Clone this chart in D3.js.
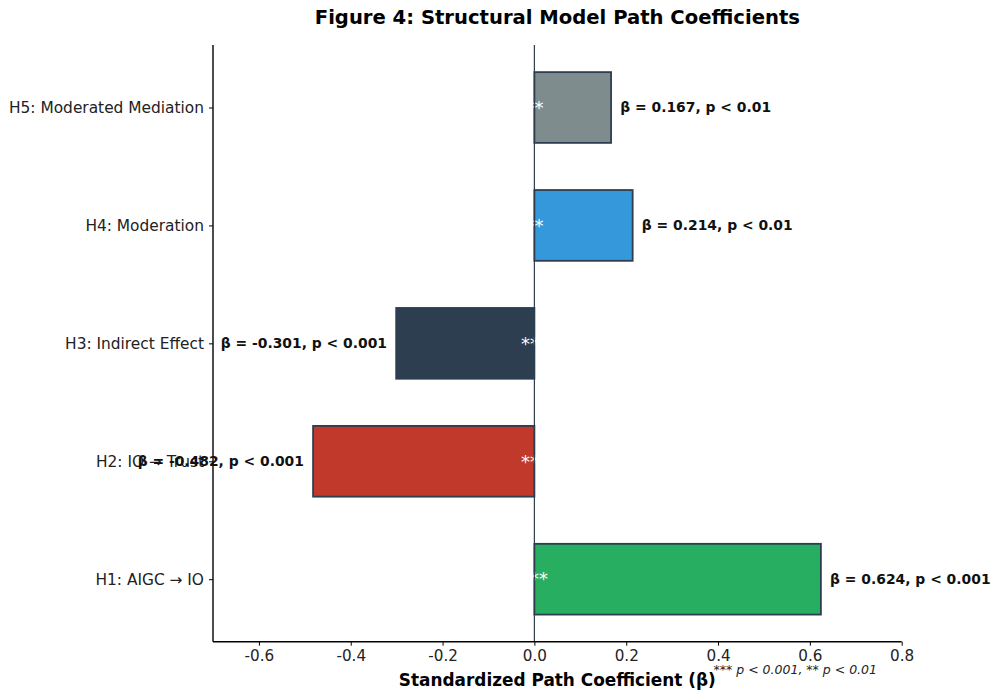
<!DOCTYPE html>
<html>
<head>
<meta charset="utf-8">
<script src="https://cdn.jsdelivr.net/npm/d3@7"></script>
<style>
  body { margin: 0; background: #fff; }
  svg { font-family: "DejaVu Sans", sans-serif; }
</style>
</head>
<body>
<svg id="chart" width="993" height="693"></svg>
<script>
// Structural model hypotheses, bottom to top
const hypotheses = ["H1: AIGC \u2192 IO", "H2: IO \u2192 Trust", "H3: Indirect Effect", "H4: Moderation", "H5: Moderated Mediation"];
const betas = [0.624, -0.482, -0.301, 0.214, 0.167];
const pLabels = ["p < 0.001", "p < 0.001", "p < 0.001", "p < 0.01", "p < 0.01"];
const stars = ["***", "***", "***", "**", "**"];
const barColors = ["#27ae60", "#c0392b", "#2c3e50", "#3498db", "#7f8c8d"];
const xTicks = [-0.6, -0.4, -0.2, 0.0, 0.2, 0.4, 0.6, 0.8];

const svg = d3.select("#chart");
const plotLeft = 213, plotRight = 901.7, plotTop = 45, plotBottom = 641.7;

const x = d3.scaleLinear().domain([-0.7, 0.8]).range([plotLeft, plotRight]);
const y = d3.scaleLinear().domain([-0.53, 4.53]).range([plotBottom, plotTop]);
const barH = Math.abs(y(0.3) - y(-0.3));
const ink = "#2c3e50";

const rows = hypotheses.map((h, i) => ({ h, b: betas[i], p: pLabels[i], s: stars[i], c: barColors[i], i }));

// Bars
svg.append("g").selectAll("rect").data(rows).join("rect")
  .attr("x", d => x(Math.min(0, d.b)))
  .attr("y", d => y(d.i) - barH / 2)
  .attr("width", d => Math.abs(x(d.b) - x(0)))
  .attr("height", barH)
  .attr("fill", d => d.c)
  .attr("stroke", ink)
  .attr("stroke-width", 1.8);

// Significance stars at the origin
svg.append("g").selectAll("text").data(rows).join("text")
  .attr("x", x(0))
  .attr("y", d => y(d.i))
  .attr("dy", "0.35em")
  .attr("text-anchor", "middle")
  .attr("fill", "#fff")
  .attr("font-size", 18)
  .text(d => d.s);

// Zero reference line
svg.append("line")
  .attr("x1", x(0)).attr("x2", x(0))
  .attr("y1", plotTop).attr("y2", plotBottom)
  .attr("stroke", ink).attr("stroke-width", 1.2);

// Axes
const xAxis = d3.axisBottom(x).tickValues(xTicks).tickFormat(d => d.toFixed(1)).tickSize(4).tickPadding(5);
const gx = svg.append("g").attr("transform", `translate(0,${plotBottom})`).call(xAxis);
gx.select(".domain").attr("d", `M${plotLeft},0H${plotRight}`).attr("stroke", "#000").attr("stroke-width", 1.4);
gx.selectAll(".tick line").attr("stroke", "#000").attr("stroke-width", 1);
gx.selectAll(".tick text").attr("font-size", 15.2).attr("fill", "#222").attr("font-family", "DejaVu Sans");

const yAxis = d3.axisLeft(y).tickValues(d3.range(hypotheses.length)).tickFormat(i => hypotheses[i]).tickSize(4).tickPadding(5);
const gy = svg.append("g").attr("transform", `translate(${plotLeft},0)`).call(yAxis);
gy.select(".domain").attr("d", `M0,${plotTop}V${plotBottom}`).attr("stroke", "#000").attr("stroke-width", 1.4);
gy.selectAll(".tick line").attr("stroke", "#000").attr("stroke-width", 1);
gy.selectAll(".tick text").attr("font-size", 15.4).attr("fill", "#222").attr("font-family", "DejaVu Sans");

// Value labels
svg.append("g").selectAll("text").data(rows).join("text")
  .attr("x", d => x(d.b + (d.b >= 0 ? 0.02 : -0.02)))
  .attr("y", d => y(d.i))
  .attr("dy", "0.35em")
  .attr("text-anchor", d => d.b >= 0 ? "start" : "end")
  .attr("font-size", 13.9)
  .attr("font-weight", "bold")
  .attr("fill", "#111")
  .text(d => `\u03b2 = ${d.b.toFixed(3)}, ${d.p}`);

// Title and axis label
svg.append("text")
  .attr("x", (plotLeft + plotRight) / 2).attr("y", 24)
  .attr("text-anchor", "middle")
  .attr("font-size", 19.6).attr("font-weight", "bold")
  .text("Figure 4: Structural Model Path Coefficients");

svg.append("text")
  .attr("x", (plotLeft + plotRight) / 2).attr("y", 686)
  .attr("text-anchor", "middle")
  .attr("font-size", 16.9).attr("font-weight", "bold")
  .text("Standardized Path Coefficient (\u03b2)");

// Significance note
svg.append("text")
  .attr("x", 877).attr("y", 674)
  .attr("text-anchor", "end")
  .attr("font-size", 12.5).attr("font-style", "italic")
  .attr("fill", "#222")
  .text("*** p < 0.001, ** p < 0.01");
</script>
</body>
</html>
